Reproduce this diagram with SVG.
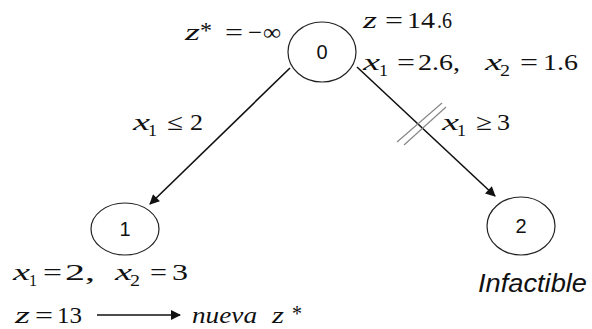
<svg xmlns="http://www.w3.org/2000/svg" width="592" height="329" viewBox="0 0 592 329">
<style>
.node{fill:#fff;stroke:#222;stroke-width:1.2}
.lbl{font-family:"Liberation Sans",Arial,sans-serif;font-size:20px;fill:#111;text-anchor:middle}
text.m{font-family:"Liberation Serif","Times New Roman",serif;font-size:23px;fill:#111}
text.i{font-style:italic}
text.s{font-size:16px}
.edge{stroke:#111;stroke-width:1.6;fill:none}
.slash{stroke:#888;stroke-width:1.2}
</style>
<defs>
<marker id="ah" viewBox="0 0 10 10" refX="9" refY="5" markerWidth="13" markerHeight="10" markerUnits="userSpaceOnUse" orient="auto">
<path d="M0,0 L10,5 L0,10 z" fill="#111"/>
</marker>
</defs>
<rect width="592" height="329" fill="#fff"/>
<g id="connectors">
<line class="edge" x1="290" y1="68" x2="150" y2="204" marker-end="url(#ah)"/>
<line class="edge" x1="357" y1="67" x2="495" y2="196" marker-end="url(#ah)"/>
<line class="slash" x1="397" y1="142" x2="442" y2="103"/>
<line class="slash" x1="404" y1="145" x2="446" y2="107"/>
<line class="edge" x1="97" y1="315" x2="180" y2="315" stroke-width="1.4" marker-end="url(#ah)"/>
</g>
<g id="node0">
<ellipse class="node" cx="322" cy="52" rx="34" ry="30"/>
<text class="lbl" x="322" y="59">0</text>
</g>
<g id="node1">
<ellipse class="node" cx="125" cy="229" rx="34" ry="26"/>
<text class="lbl" x="125" y="236">1</text>
</g>
<g id="node2">
<ellipse class="node" cx="521" cy="226" rx="34" ry="29"/>
<text class="lbl" x="521" y="233">2</text>
</g>
<g id="label-zstar" >
<text class="m i" x="185" y="40" textLength="15" lengthAdjust="spacingAndGlyphs">z</text>
<text class="m" x="200" y="38" textLength="12" lengthAdjust="spacingAndGlyphs">*</text>
<text class="m" x="225" y="40" textLength="18" lengthAdjust="spacingAndGlyphs">=</text>
<text class="m" x="248" y="40" textLength="14" lengthAdjust="spacingAndGlyphs">−</text>
<text class="m" x="263" y="40" textLength="18" lengthAdjust="spacingAndGlyphs">∞</text>
</g>
<g id="label-z0">
<text class="m i" x="363" y="28" textLength="14" lengthAdjust="spacingAndGlyphs">z</text>
<text class="m" x="385" y="28" textLength="18" lengthAdjust="spacingAndGlyphs">=</text>
<text class="m" x="407" y="28" textLength="28" lengthAdjust="spacingAndGlyphs">14</text>
<text class="m" x="437" y="28" textLength="15" lengthAdjust="spacingAndGlyphs">.6</text>
</g>
<g id="label-x0">
<text class="m i" x="363" y="70" textLength="17" lengthAdjust="spacingAndGlyphs">x</text>
<text class="m s" x="379" y="76" textLength="9" lengthAdjust="spacingAndGlyphs">1</text>
<text class="m" x="397" y="70" textLength="18" lengthAdjust="spacingAndGlyphs">=</text>
<text class="m" x="418" y="70" textLength="42" lengthAdjust="spacingAndGlyphs">2.6,</text>
<text class="m i" x="485" y="70" textLength="17" lengthAdjust="spacingAndGlyphs">x</text>
<text class="m s" x="500" y="76" textLength="10" lengthAdjust="spacingAndGlyphs">2</text>
<text class="m" x="520" y="70" textLength="18" lengthAdjust="spacingAndGlyphs">=</text>
<text class="m" x="543" y="70" textLength="35" lengthAdjust="spacingAndGlyphs">1.6</text>
</g>
<g id="label-left">
<text class="m i" x="133" y="130" textLength="17" lengthAdjust="spacingAndGlyphs">x</text>
<text class="m s" x="148" y="136" textLength="9" lengthAdjust="spacingAndGlyphs">1</text>
<text class="m" x="167" y="130" textLength="16" lengthAdjust="spacingAndGlyphs">≤</text>
<text class="m" x="190" y="130" textLength="13" lengthAdjust="spacingAndGlyphs">2</text>
</g>
<g id="label-right">
<text class="m i" x="442" y="130" textLength="17" lengthAdjust="spacingAndGlyphs">x</text>
<text class="m s" x="457" y="136" textLength="9" lengthAdjust="spacingAndGlyphs">1</text>
<text class="m" x="476" y="130" textLength="16" lengthAdjust="spacingAndGlyphs">≥</text>
<text class="m" x="497" y="130" textLength="13" lengthAdjust="spacingAndGlyphs">3</text>
</g>
<g id="label-x1">
<text class="m i" x="13" y="280" textLength="17" lengthAdjust="spacingAndGlyphs">x</text>
<text class="m s" x="29" y="286" textLength="8" lengthAdjust="spacingAndGlyphs">1</text>
<text class="m" x="43" y="280" textLength="19" lengthAdjust="spacingAndGlyphs">=</text>
<text class="m" x="65" y="280" textLength="30" lengthAdjust="spacingAndGlyphs">2,</text>
<text class="m i" x="115" y="280" textLength="17" lengthAdjust="spacingAndGlyphs">x</text>
<text class="m s" x="130" y="286" textLength="10" lengthAdjust="spacingAndGlyphs">2</text>
<text class="m" x="150" y="280" textLength="17" lengthAdjust="spacingAndGlyphs">=</text>
<text class="m" x="172" y="280" textLength="16" lengthAdjust="spacingAndGlyphs">3</text>
</g>
<g id="label-z1">
<text class="m i" x="15" y="323" textLength="15" lengthAdjust="spacingAndGlyphs">z</text>
<text class="m" x="35" y="323" textLength="18" lengthAdjust="spacingAndGlyphs">=</text>
<text class="m" x="57" y="323" textLength="25" lengthAdjust="spacingAndGlyphs">13</text>
<text class="m i" x="192" y="323" textLength="65" lengthAdjust="spacingAndGlyphs">nueva</text>
<text class="m i" x="272" y="323" textLength="12" lengthAdjust="spacingAndGlyphs">z</text>
<text class="m" x="292" y="321" textLength="10" lengthAdjust="spacingAndGlyphs">*</text>
</g>
<g id="label-infactible">
<text x="478" y="292" font-family="'Liberation Sans',Arial,sans-serif" font-style="italic" font-size="25" fill="#111" textLength="109" lengthAdjust="spacingAndGlyphs">Infactible</text>
</g>
</svg>
